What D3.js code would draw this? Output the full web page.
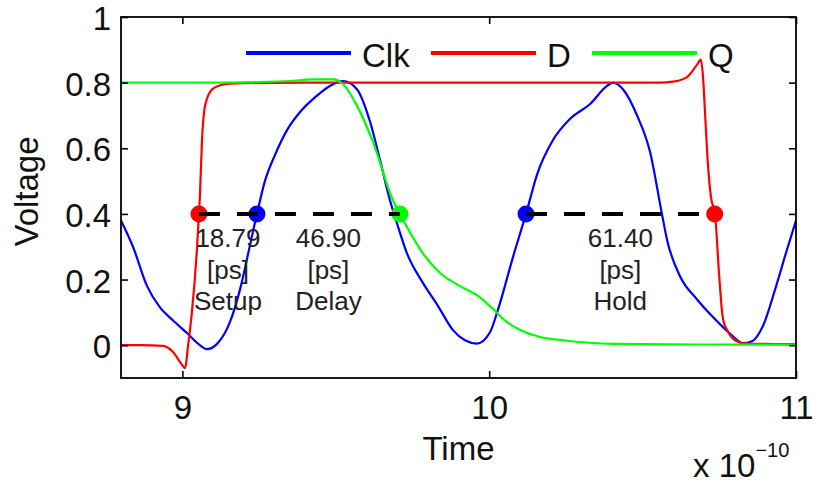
<!DOCTYPE html>
<html>
<head>
<meta charset="utf-8">
<script src="https://cdn.jsdelivr.net/npm/d3@7"></script>
<style>
  body { margin: 0; background: #fff; }
  svg { display: block; }
  text { font-family: "Liberation Sans", Arial, Helvetica, sans-serif; }
</style>
</head>
<body>
<svg id="chart" width="816" height="485"></svg>
<script>
// ---- data (time in units of 1e-10 s, voltage in V) ----
const clkT = [8.800, 8.839, 8.885, 8.927, 8.969, 9.015, 9.057, 9.080, 9.113, 9.155, 9.188, 9.217, 9.243, 9.269, 9.302, 9.344, 9.383, 9.432, 9.481, 9.524, 9.569, 9.612, 9.644, 9.677, 9.700, 9.732, 9.784, 9.833, 9.882, 9.921, 9.960, 10.003, 10.026, 10.078, 10.120, 10.156, 10.208, 10.264, 10.329, 10.384, 10.404, 10.436, 10.482, 10.524, 10.563, 10.580, 10.622, 10.677, 10.730, 10.785, 10.827, 10.857, 10.893, 10.932, 10.967, 11.000];
const clkV = [0.38, 0.30, 0.18, 0.115, 0.076, 0.037, 0.0, -0.012, 0.004, 0.07, 0.17, 0.29, 0.40, 0.50, 0.58, 0.66, 0.71, 0.755, 0.79, 0.805, 0.78, 0.68, 0.565, 0.44, 0.37, 0.28, 0.19, 0.12, 0.046, 0.015, 0.005, 0.04, 0.10, 0.27, 0.40, 0.52, 0.625, 0.69, 0.735, 0.79, 0.80, 0.78, 0.70, 0.59, 0.40, 0.32, 0.21, 0.14, 0.085, 0.035, 0.006, 0.012, 0.06, 0.17, 0.28, 0.38];

const dT = [8.800, 8.862, 8.937, 8.969, 8.999, 9.009, 9.018, 9.031, 9.048, 9.054, 9.057, 9.064, 9.074, 9.097, 9.123, 9.155, 9.383, 10.035, 10.557, 10.599, 10.645, 10.677, 10.690, 10.697, 10.704, 10.713, 10.723, 10.736, 10.749, 10.762, 10.779, 10.801, 10.834, 11.000];
const dV = [0.0, 0.0, -0.002, -0.02, -0.06, -0.07, -0.006, 0.10, 0.30, 0.40, 0.45, 0.625, 0.73, 0.78, 0.792, 0.797, 0.80, 0.80, 0.80, 0.803, 0.817, 0.854, 0.87, 0.817, 0.70, 0.55, 0.45, 0.40, 0.22, 0.08, 0.04, 0.015, 0.005, 0.003];

const qT = [8.800, 9.057, 9.253, 9.351, 9.426, 9.491, 9.524, 9.569, 9.621, 9.687, 9.709, 9.732, 9.784, 9.840, 9.905, 9.970, 10.013, 10.052, 10.101, 10.166, 10.241, 10.404, 10.687, 11.000];
const qV = [0.80, 0.80, 0.802, 0.805, 0.81, 0.81, 0.795, 0.73, 0.62, 0.44, 0.40, 0.36, 0.28, 0.22, 0.18, 0.146, 0.11, 0.075, 0.046, 0.025, 0.015, 0.004, 0.002, 0.002];

const seriesNames = ["Clk", "D", "Q"];
const seriesColors = ["#0000ff", "#ff0000", "#00ff00"];

// measurement points at 0.4 V
const level = 0.4;
const markT = [9.054, 9.243, 9.709, 10.120, 10.735];
const markColor = ["#ff0000", "#0000ff", "#00ff00", "#0000ff", "#ff0000"];
const spans = [[9.054, 9.709], [10.120, 10.735]];
const measStart = [9.054, 9.243, 10.120];
const measEnd = [9.243, 9.709, 10.735];
const measValue = ["18.79", "46.90", "61.40"];
const measUnit = "[ps]";
const measName = ["Setup", "Delay", "Hold"];

const xTicks = [9, 10, 11];
const yTicks = [0, 0.2, 0.4, 0.6, 0.8, 1];

// ---- layout ----
const svg = d3.select("#chart");
const L = 121, R = 796, T = 17, B = 378;
const x = d3.scaleLinear().domain([8.8, 11]).range([L, R]);
const y = d3.scaleLinear().domain([-0.1, 1]).range([B, T]);

svg.append("defs").append("clipPath").attr("id", "clip")
  .append("rect").attr("x", L).attr("y", T).attr("width", R - L).attr("height", B - T);

const line = d3.line().x(d => x(d[0])).y(d => y(d[1])).curve(d3.curveMonotoneX);
const zipS = (ts, vs) => ts.map((t, i) => [t, vs[i]]);
const data = [zipS(clkT, clkV), zipS(dT, dV), zipS(qT, qV)];

const plot = svg.append("g").attr("clip-path", "url(#clip)");
data.forEach((d, i) => {
  plot.append("path").datum(d).attr("d", line)
    .attr("fill", "none").attr("stroke", seriesColors[i])
    .attr("stroke-width", 2.2).attr("stroke-linejoin", "round");
});

// markers
svg.append("g").selectAll("circle").data(markT).join("circle")
  .attr("cx", d => x(d)).attr("cy", y(level)).attr("r", 8.5)
  .attr("fill", (d, i) => markColor[i]);

// dashed spans
svg.append("g").selectAll("line").data(spans).join("line")
  .attr("x1", d => x(d[0])).attr("x2", d => x(d[1]))
  .attr("y1", y(level)).attr("y2", y(level))
  .attr("stroke", "#000").attr("stroke-width", 4)
  .attr("stroke-dasharray", "21,17");

// annotations
const ann = svg.append("g").attr("font-size", 26).attr("fill", "#222").attr("text-anchor", "middle");
measValue.forEach((v, i) => {
  const cx = x((measStart[i] + measEnd[i]) / 2);
  ann.append("text").attr("x", cx).attr("y", 247).text(v);
  ann.append("text").attr("x", cx).attr("y", 278.5).text(measUnit);
  ann.append("text").attr("x", cx).attr("y", 310).text(measName[i]);
});

// axes
const fs = 33;
const gx = svg.append("g").attr("transform", `translate(0,${B})`)
  .call(d3.axisBottom(x).tickValues(xTicks).tickFormat(d3.format("d")).tickSizeInner(-7).tickSizeOuter(0).tickPadding(17.6));
const gxt = svg.append("g").attr("transform", `translate(0,${T})`)
  .call(d3.axisTop(x).tickValues(xTicks).tickFormat("").tickSizeInner(-7).tickSizeOuter(0));
const gy = svg.append("g").attr("transform", `translate(${L},0)`)
  .call(d3.axisLeft(y).tickValues(yTicks).tickFormat(d3.format("")).tickSizeInner(-7).tickSizeOuter(0).tickPadding(10));
const gyr = svg.append("g").attr("transform", `translate(${R},0)`)
  .call(d3.axisRight(y).tickValues(yTicks).tickFormat("").tickSizeInner(-7).tickSizeOuter(0));
[gx, gxt, gy, gyr].forEach(g => {
  g.select(".domain").remove();
  g.selectAll(".tick line").attr("stroke", "#000").attr("stroke-width", 1.6);
  g.selectAll("text").attr("font-size", fs).attr("fill", "#111")
    .attr("font-family", '"Liberation Sans", Arial, sans-serif');
});
gy.selectAll("text").attr("dy", "0.38em");
gx.selectAll("text").attr("dy", "0.71em");

svg.append("rect").attr("x", L).attr("y", T).attr("width", R - L).attr("height", B - T)
  .attr("fill", "none").attr("stroke", "#000").attr("stroke-width", 1.8);

// axis labels
svg.append("text").attr("x", (L + R) / 2).attr("y", 460).attr("text-anchor", "middle")
  .attr("font-size", fs).attr("fill", "#111").text("Time");
svg.append("text").attr("transform", `translate(38,${(T + B) / 2 - 6}) rotate(-90)`)
  .attr("text-anchor", "middle").attr("font-size", fs).attr("fill", "#111").text("Voltage");
const mult = svg.append("text").attr("x", 693).attr("y", 477).attr("font-size", fs).attr("fill", "#111");
mult.append("tspan").text("x 10");
mult.append("tspan").attr("dy", -20).attr("font-size", 20).text("\u221210");

// legend
const legX = [246, 431, 592];
const leg = svg.append("g");
seriesNames.forEach((n, i) => {
  leg.append("line").attr("x1", legX[i]).attr("x2", legX[i] + 105)
    .attr("y1", 53).attr("y2", 53).attr("stroke", seriesColors[i]).attr("stroke-width", 4);
  leg.append("text").attr("x", legX[i] + 116).attr("y", 67).attr("font-size", fs)
    .attr("fill", "#111").text(n);
});
</script>
</body>
</html>
